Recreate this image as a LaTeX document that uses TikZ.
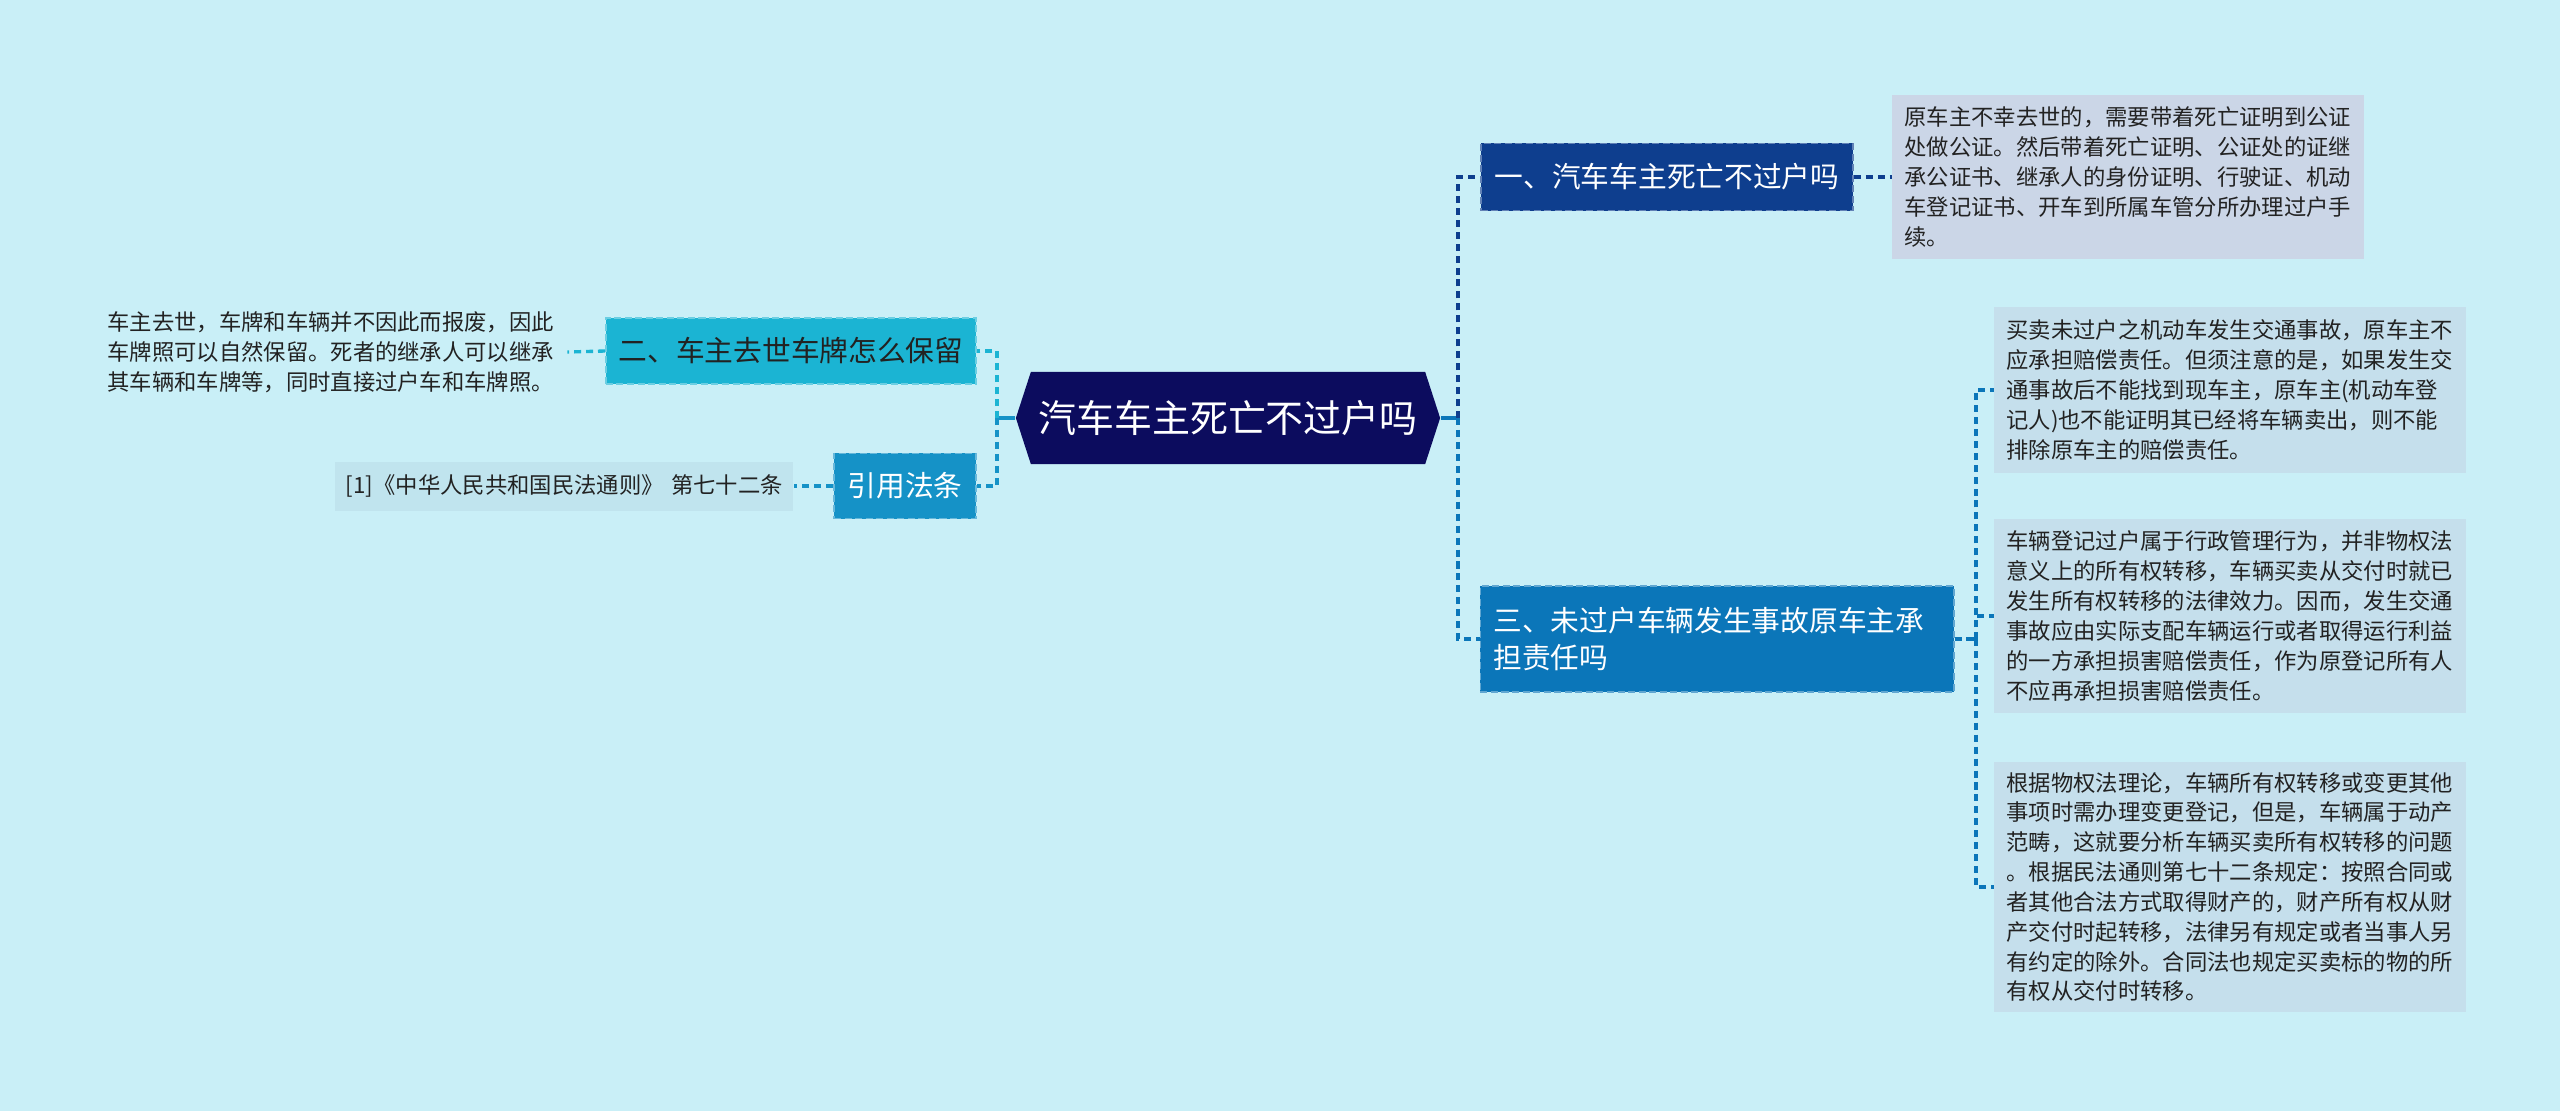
\documentclass[tikz,border=0pt]{standalone}
\usepackage{fontspec}
\setmainfont{Noto Sans CJK SC}
\usepackage{tikz}
\usetikzlibrary{positioning,backgrounds,shapes.symbols}
\definecolor{mapBg}{HTML}{C9EFF7}
\definecolor{mapRoot}{HTML}{0C0C5E}
\definecolor{mapNavy}{HTML}{0E3E8E}
\definecolor{mapBlue}{HTML}{0B76B9}
\definecolor{mapCyan}{HTML}{1BB4D3}
\definecolor{mapRef}{HTML}{1592C7}
\definecolor{leafGray}{HTML}{CBD6E7}
\definecolor{leafBlue}{HTML}{C5DFEC}
\definecolor{leafRef}{HTML}{C0E4EE}
\definecolor{leafText}{HTML}{222222}

\begin{document}
\begin{tikzpicture}[
    x=0.01cm, y=-0.01cm,
    rootbox/.style={shape=signal, signal to=west and east, signal pointer angle=144, fill=mapRoot, text=white, inner sep=0pt, minimum width=4.24cm, minimum height=0.92cm, font=\fontsize{10.8pt}{13pt}\selectfont},
    branch/.style={fill=#1, draw=#1!65!white, dash pattern=on 2pt off 1pt, line width=0.5pt, text=white, inner sep=0pt, align=left, font=\fontsize{8.17pt}{10.67pt}\selectfont},
    leaf/.style={fill=#1, text=leafText, inner xsep=0.12cm, inner ysep=0pt, text width=4.47cm, align=left, font=\fontsize{6.35pt}{8.48pt}\selectfont},
    link/.style={draw=#1, line width=0.95pt, dash pattern=on 2pt off 1.4pt},
    stub/.style={draw=#1, line width=0.95pt}
]

\useasboundingbox[fill=mapBg] (0,0) rectangle (2560,1111);

\node[rootbox] (root) at (1228,418) {汽车车主死亡不过户吗};

\node[branch=mapNavy, minimum width=3.72cm, minimum height=0.67cm] (carDeath) at (1667,177) {一、汽车车主死亡不过户吗};
\node[branch=mapBlue, minimum width=4.73cm, minimum height=1.06cm, text width=4.47cm] (accident) at (1717,639) {三、未过户车辆发生事故原车主承\\担责任吗};
\node[branch=mapCyan, minimum width=3.70cm, minimum height=0.66cm, text=leafText] (plate) at (791,351) {二、车主去世车牌怎么保留};
\node[branch=mapRef, minimum width=1.42cm, minimum height=0.65cm] (lawRef) at (905,486) {引用法条};

\node[leaf=leafGray, minimum height=1.63cm] (carDeathTxt) at (2128,177) {原车主不幸去世的，需要带着死亡证明到公证\\处做公证。然后带着死亡证明、公证处的证继\\承公证书、继承人的身份证明、行驶证、机动\\车登记证书、开车到所属车管分所办理过户手\\续。};
\node[leaf=leafBlue, minimum height=1.66cm] (accTxtA) at (2230,390) {买卖未过户之机动车发生交通事故，原车主不\\应承担赔偿责任。但须注意的是，如果发生交\\通事故后不能找到现车主，原车主(机动车登\\记人)也不能证明其已经将车辆卖出，则不能\\排除原车主的赔偿责任。};
\node[leaf=leafBlue, minimum height=1.94cm] (accTxtB) at (2230,616) {车辆登记过户属于行政管理行为，并非物权法\\意义上的所有权转移，车辆买卖从交付时就已\\发生所有权转移的法律效力。因而，发生交通\\事故应由实际支配车辆运行或者取得运行利益\\的一方承担损害赔偿责任，作为原登记所有人\\不应再承担损害赔偿责任。};
\node[leaf=leafBlue, minimum height=2.50cm] (accTxtC) at (2230,887) {根据物权法理论，车辆所有权转移或变更其他\\事项时需办理变更登记，但是，车辆属于动产\\范畴，这就要分析车辆买卖所有权转移的问题\\。根据民法通则第七十二条规定：按照合同或\\者其他合法方式取得财产的，财产所有权从财\\产交付时起转移，法律另有规定或者当事人另\\有约定的除外。合同法也规定买卖标的物的所\\有权从交付时转移。};
\node[leaf=mapBg, minimum height=0.90cm] (plateTxt) at (331,352) {车主去世，车牌和车辆并不因此而报废，因此\\车牌照可以自然保留。死者的继承人可以继承\\其车辆和车牌等，同时直接过户车和车牌照。};
\node[leaf=leafRef, text width=4.36cm, inner xsep=0.11cm, minimum height=0.49cm] (lawRefTxt) at (564,486) {[1]《中华人民共和国民法通则》~第七十二条};

\coordinate (leftJoin) at (997,418);
\coordinate (rightJoin) at (1458,418);
\coordinate (accJoin) at (1976,639);

\draw[stub=mapRef] (root.west) -- (leftJoin);
\draw[link=mapCyan] (leftJoin) |- (plate.east);
\draw[link=mapRef] (leftJoin) |- (lawRef.east);
\draw[link=mapCyan] (plate.west) -- (plateTxt.east);
\draw[link=mapRef] (lawRef.west) -- (lawRefTxt.east);

\draw[stub=mapBlue] (root.east) -- (rightJoin);
\draw[link=mapNavy] (rightJoin) |- (carDeath.west);
\draw[link=mapBlue] (rightJoin) |- (accident.west);
\draw[link=mapNavy] (carDeath.east) -- (carDeathTxt.west);

\draw[link=mapBlue] (accident.east) -- (accJoin);
\draw[link=mapBlue] (accJoin) |- (accTxtA.west);
\draw[link=mapBlue] (accJoin) |- (accTxtB.west);
\draw[link=mapBlue] (accJoin) |- (accTxtC.west);

\end{tikzpicture}
\end{document}
